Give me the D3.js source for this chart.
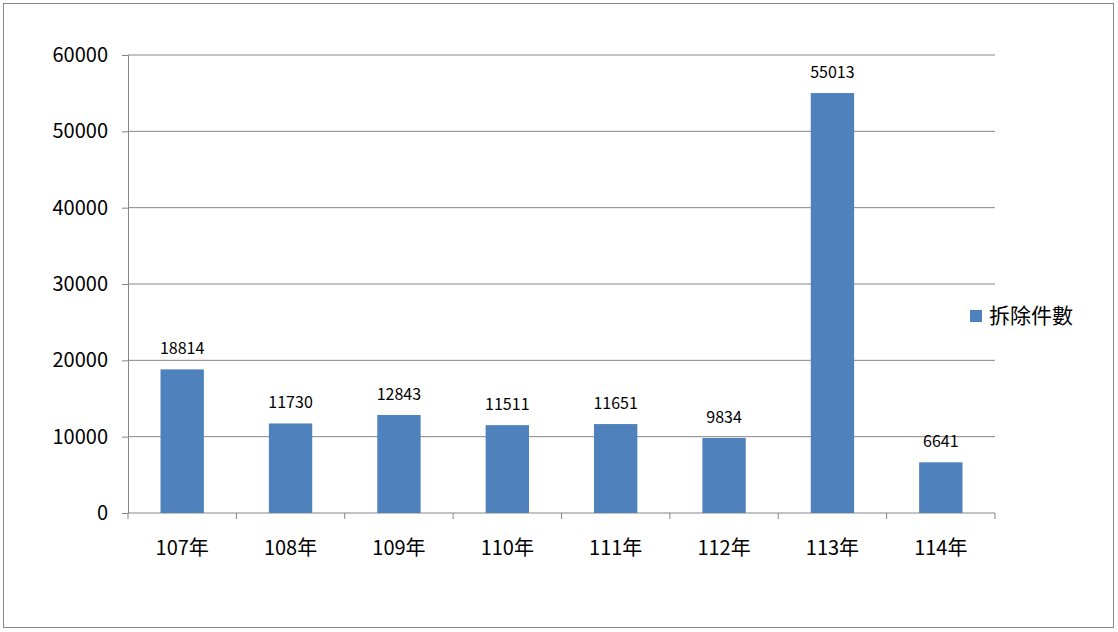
<!DOCTYPE html>
<html><head><meta charset="utf-8">
<script src="https://cdn.jsdelivr.net/npm/d3@7"></script>
<style>body{margin:0;background:#fff}</style></head>
<body><svg id="c" width="1118" height="632"></svg>
<script>
const categories = ['107年','108年','109年','110年','111年','112年','113年','114年'];
const values = [18814, 11730, 12843, 11511, 11651, 9834, 55013, 6641];
const yTicks = [0, 10000, 20000, 30000, 40000, 50000, 60000];
const seriesName = '拆除件數';

const svg = d3.select('#c');
const font = "'Noto Sans CJK TC', 'Noto Sans', sans-serif";
svg.append('rect').attr('x', 3.5).attr('y', 3.5).attr('width', 1110).attr('height', 624)
  .attr('fill', '#fff').attr('stroke', '#888');

const m = {l: 128, r: 995, t: 55, b: 513};
const x = d3.scaleBand().domain(categories).range([m.l, m.r]).paddingInner(0.6).paddingOuter(0.3);
const y = d3.scaleLinear().domain([0, 60000]).range([m.b, m.t]);

svg.append('g').selectAll('line').data(yTicks.slice(1)).join('line')
  .attr('x1', m.l).attr('x2', m.r).attr('y1', d => y(d)).attr('y2', d => y(d))
  .attr('stroke', '#868686');

const ya = svg.append('g').attr('transform', `translate(${m.l},0)`)
  .call(d3.axisLeft(y).tickValues(yTicks).tickSize(6).tickPadding(14).tickFormat(d3.format('d')));
ya.select('.domain').attr('stroke', '#868686');
ya.selectAll('line').attr('stroke', '#868686');
ya.selectAll('text').attr('font-family', font).attr('font-size', 20).attr('fill', '#000');

const step = (m.r - m.l) / categories.length;
const xa = svg.append('g').attr('transform', `translate(0,${m.b})`);
xa.append('line').attr('x1', m.l).attr('x2', m.r).attr('stroke', '#868686');
xa.selectAll('.t').data(d3.range(categories.length + 1)).join('line')
  .attr('x1', i => m.l + i * step).attr('x2', i => m.l + i * step).attr('y2', 6).attr('stroke', '#868686');
xa.selectAll('text').data(categories).join('text')
  .attr('x', d => x(d) + x.bandwidth() / 2).attr('y', 42).attr('text-anchor', 'middle')
  .attr('font-family', font).attr('font-size', 20).text(d => d);

svg.append('g').selectAll('rect').data(values).join('rect')
  .attr('x', (d, i) => x(categories[i])).attr('width', x.bandwidth())
  .attr('y', d => y(d)).attr('height', d => y(0) - y(d)).attr('fill', '#4F81BD');

svg.append('g').selectAll('text').data(values).join('text')
  .attr('x', (d, i) => x(categories[i]) + x.bandwidth() / 2).attr('y', d => y(d) - 15)
  .attr('text-anchor', 'middle').attr('font-family', font).attr('font-size', 16).text(d => d);

svg.append('rect').attr('x', 970).attr('y', 310).attr('width', 12).attr('height', 12).attr('fill', '#4F81BD');
svg.append('text').attr('x', 989).attr('y', 323).attr('font-family', font).attr('font-size', 21).text(seriesName);
</script></body></html>
